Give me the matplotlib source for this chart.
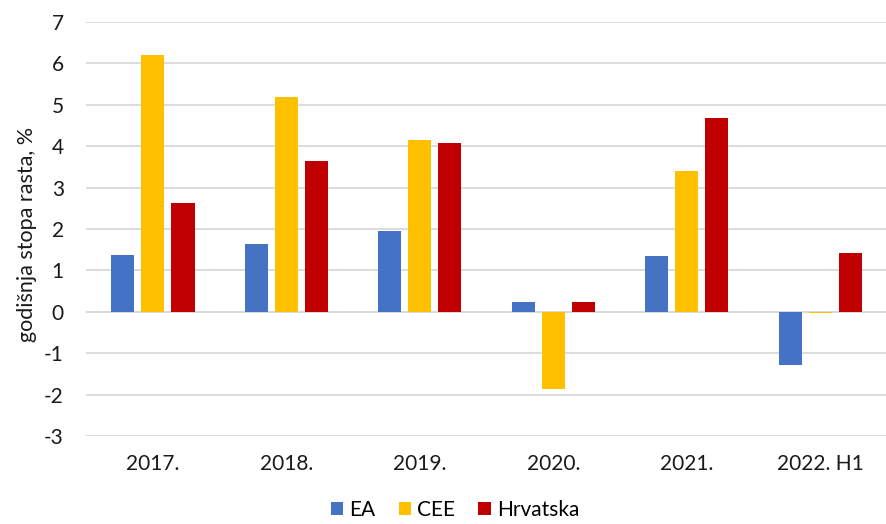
import numpy as np
import matplotlib
matplotlib.use("Agg")
import matplotlib.pyplot as plt

plt.rcParams['font.family'] = ['Lato', 'DejaVu Sans']
plt.rcParams['axes.unicode_minus'] = False

categories = ["2017.", "2018.", "2019.", "2020.", "2021.", "2022. H1"]
ea = [1.38, 1.63, 1.95, 0.23, 1.34, -1.29]
cee = [6.20, 5.18, 4.15, -1.85, 3.39, -0.02]
hrvatska = [2.63, 3.64, 4.07, 0.23, 4.68, 1.42]

series = [("EA", ea, "#4472C4"), ("CEE", cee, "#FFC000"), ("Hrvatska", hrvatska, "#C00000")]

fig = plt.figure(figsize=(8.87, 5.24), dpi=100)
ax = fig.add_axes([0.097, 0.1674, 0.903, 0.7912])

x = np.arange(len(categories))
step = 0.225
width = 0.175
for i, (name, vals, col) in enumerate(series):
    ax.bar(x + (i - 1) * step, vals, width, color=col, label=name, zorder=3)

ax.set_xlim(-0.5, len(categories) - 0.5)
ax.set_ylim(-3, 7)
ax.set_yticks(range(-3, 8))
ax.set_xticks(x)
ax.set_xticklabels(categories)
ax.grid(axis='y', color='#D9D9D9', linewidth=1.3, zorder=0)
ax.axhline(0, color='#D9D9D9', linewidth=1.3, zorder=1)
for s in ax.spines.values():
    s.set_visible(False)
ax.tick_params(length=0, labelsize=15, colors='#1a1a1a')
ax.tick_params(axis='x', pad=13)
ax.tick_params(axis='y', pad=16)
ax.set_ylabel("godišnja stopa rasta, %", fontsize=15.5, color='#1a1a1a')
ax.yaxis.set_label_coords(-0.061, 0.488)

fig.legend(loc='lower center', bbox_to_anchor=(0.513, -0.028), ncol=3, frameon=False,
           fontsize=15, handlelength=0.6, handleheight=0.6, handletextpad=0.3, columnspacing=1.1)

fig.savefig("out.png", dpi=100)
